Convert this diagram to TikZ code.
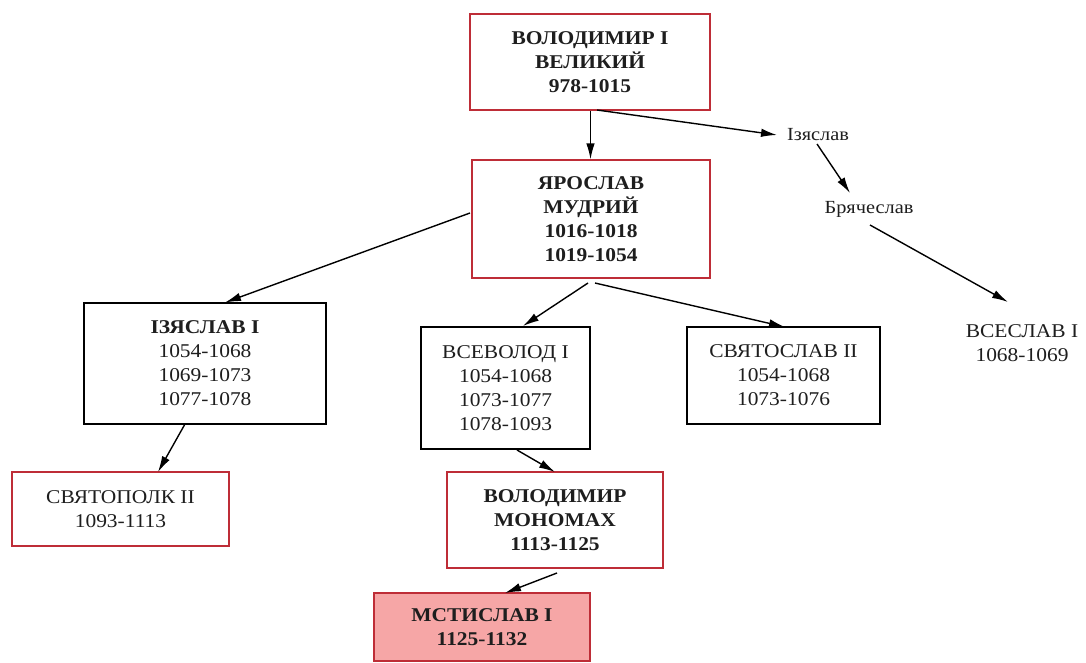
\documentclass[tikz,border=0pt]{standalone}
\usepackage{fontspec}
\setmainfont{Liberation Serif}[FakeStretch=1.1]
\usetikzlibrary{arrows.meta}
\definecolor{redline}{RGB}{190,45,55}
\definecolor{pinkfill}{RGB}{246,166,166}
\definecolor{inkc}{RGB}{30,30,30}
\begin{document}
\begin{tikzpicture}[x=1pt,y=-1pt,
  box/.style={draw=black, line width=1.2pt, align=center, inner sep=0pt,
    font=\fontsize{19.5}{24}\selectfont, text=inkc},
  redbox/.style={box, draw=redline},
  lbl/.style={inner sep=2pt, font=\fontsize{18.5}{22}\selectfont, text=inkc},
  free/.style={inner sep=2pt, align=center, font=\fontsize{19.5}{24}\selectfont, text=inkc},
  arr/.style={draw=black, line width=1.4pt, -{Latex[length=16pt,width=8.5pt]}}]
\useasboundingbox (0,0) rectangle (1086,662);
\fill[white] (0,0) rectangle (1086,662);

\node[redbox, minimum width=240, minimum height=96] (b1) at (590,62)
  {\bfseries ВОЛОДИМИР І\\\bfseries ВЕЛИКИЙ\\\bfseries 978-1015};
\node[redbox, minimum width=238, minimum height=118] (b2) at (591,219)
  {\bfseries ЯРОСЛАВ\\\bfseries МУДРИЙ\\\bfseries 1016-1018\\\bfseries 1019-1054};
\node[box, minimum width=242, minimum height=121] (izy) at (205,363.5)
  {\bfseries ІЗЯСЛАВ І\\1054-1068\\1069-1073\\1077-1078};
\node[box, minimum width=169, minimum height=122] (vse) at (505.5,388)
  {ВСЕВОЛОД І\\1054-1068\\1073-1077\\1078-1093};
\node[box, minimum width=193, minimum height=97] (svy) at (783.5,375.5)
  {СВЯТОСЛАВ ІІ\\1054-1068\\1073-1076};
\node[redbox, minimum width=217, minimum height=74] (stp) at (120.5,509)
  {СВЯТОПОЛК ІІ\\1093-1113};
\node[redbox, minimum width=216, minimum height=96] (mon) at (555,520)
  {\bfseries ВОЛОДИМИР\\\bfseries МОНОМАХ\\\bfseries 1113-1125};
\node[redbox, fill=pinkfill, minimum width=216, minimum height=68] (mst) at (482,627)
  {\bfseries МСТИСЛАВ І\\\bfseries 1125-1132};
\node[lbl] (izl) at (818,135) {Ізяслав};
\node[lbl] (bry) at (869,209) {Брячеслав};
\node[free] (vsl) at (1022,343) {ВСЕСЛАВ І\\1068-1069};

\draw[arr] ([xshift=0.5pt]b1.south) -- ([xshift=-0.5pt]b2.north);
\draw[arr] ([shift={(7,48)}]b1.center) -- ([shift={(-41,0)}]izl.center);
\draw[arr] ([shift={(-1,9)}]izl.center) -- ([shift={(-19,-16)}]bry.center);
\draw[arr] ([shift={(1,16)}]bry.center) -- ([shift={(-14,-41)}]vsl.center);
\draw[arr] ([shift={(-121,-6)}]b2.center) -- ([shift={(20,-61)}]izy.center);
\draw[arr] ([shift={(-3,64)}]b2.center) -- ([shift={(17.5,-62)}]vse.center);
\draw[arr] ([shift={(4,64)}]b2.center) -- ([shift={(1.5,-48.5)}]svy.center);
\draw[arr] ([shift={(-20,60.5)}]izy.center) -- ([shift={(37.5,-37)}]stp.center);
\draw[arr] ([shift={(11.5,62)}]vse.center) -- ([shift={(0,-48)}]mon.center);
\draw[arr] ([shift={(2,53)}]mon.center) -- ([shift={(23,-34)}]mst.center);
\end{tikzpicture}
\end{document}
